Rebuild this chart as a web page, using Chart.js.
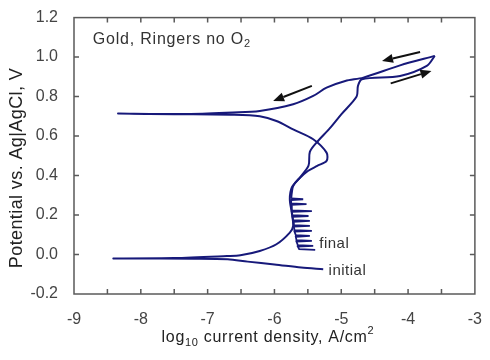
<!DOCTYPE html>
<html>
<head>
<meta charset="utf-8">
<script src="https://cdn.jsdelivr.net/npm/chart.js@4.4.1/dist/chart.umd.min.js"></script>
<style>
  html, body { margin: 0; padding: 0; background: #fff; }
  #wrap { width: 490px; height: 360px; }
</style>
</head>
<body>
<div id="wrap"><canvas id="chart"></canvas></div>
<script>
// ── Data (log10 i in A/cm2, potential in V vs Ag|AgCl) ─────────────

// forward sweep: initial -> vertex
const fwdLogI = [-5.27, -5.6, -6.0, -6.4, -6.7, -7.2, -8.41, -7.5, -6.71, -6.51, -6.22, -5.97, -5.77, -5.72,
                 -5.74, -5.77, -5.74, -5.62, -5.49, -5.47, -5.37, -5.17, -5.0, -4.77, -4.75, -4.69, -4.12, -3.72, -3.60];
const fwdE    = [-0.075, -0.066, -0.05, -0.036, -0.024, -0.021, -0.02, -0.018, -0.008, -0.004, 0.018, 0.052, 0.111, 0.145,
                 0.21, 0.28, 0.34, 0.39, 0.45, 0.52, 0.567, 0.64, 0.71, 0.80, 0.854, 0.888, 0.904, 0.955, 1.006];

// reverse sweep: vertex -> start of noisy region
const revLogI = [-3.60, -4.12, -4.67, -4.94, -5.22, -5.42, -5.72, -6.22, -6.62, -7.26, -8.34, -7.5, -6.61, -6.22,
                 -5.97, -5.72, -5.42, -5.22, -5.22, -5.36, -5.50, -5.64, -5.72, -5.74, -5.75];
const revE    = [1.006, 0.958, 0.896, 0.879, 0.845, 0.803, 0.761, 0.727, 0.719, 0.712, 0.714, 0.711, 0.708, 0.70,
                 0.676, 0.634, 0.584, 0.516, 0.474, 0.449, 0.423, 0.381, 0.347, 0.314, 0.284];

// noisy tail of the reverse sweep (base, spike, base for each spike)
const tailLogI = [-5.75, -5.57, -5.75,  -5.75, -5.52, -5.75,  -5.74, -5.44, -5.74,  -5.73, -5.49, -5.73,
                  -5.72, -5.47, -5.72,  -5.71, -5.47, -5.71,  -5.70, -5.44, -5.70,  -5.68, -5.47, -5.68,
                  -5.67, -5.44, -5.67,  -5.65, -5.42, -5.65,  -5.63, -5.39];
const tailE    = [0.284, 0.280, 0.276,  0.259, 0.255, 0.251,  0.224, 0.220, 0.216,  0.199, 0.195, 0.191,
                  0.174, 0.170, 0.166,  0.149, 0.145, 0.141,  0.124, 0.120, 0.116,  0.098, 0.094, 0.090,
                  0.073, 0.069, 0.065,  0.048, 0.044, 0.040,  0.027, 0.023];

// scan direction arrows [fromLogI, fromE, toLogI, toE]
const arrows = [
  [-3.82, 1.026, -4.39, 0.980],
  [-4.26, 0.867, -3.65, 0.930],
  [-5.44, 0.854, -6.02, 0.778],
];

const xTicks = [-9, -8, -7, -6, -5, -4, -3];
const yTicks = [-0.2, 0.0, 0.2, 0.4, 0.6, 0.8, 1.0, 1.2];

const FONT = '"Liberation Sans", Arial, sans-serif';
const LINE = '#17197a';

const toPts = (xs, ys) => xs.map((x, i) => ({ x, y: ys[i] }));

// ── Plugin: frame, inward ticks, labels, arrows ───────────────────

const decor = {
  id: 'decor',
  afterDraw(chart) {
    const { ctx, chartArea: a, scales: { x, y } } = chart;
    ctx.save();

    // frame
    ctx.strokeStyle = '#5a5a5a';
    ctx.lineWidth = 1.5;
    ctx.strokeRect(a.left, a.top, a.right - a.left, a.bottom - a.top);

    // inward ticks (x has half-decade minors)
    ctx.beginPath();
    for (let v = -8.5; v < -3; v += 0.5) {
      const px = x.getPixelForValue(v);
      ctx.moveTo(px, a.bottom); ctx.lineTo(px, a.bottom - 5);
      ctx.moveTo(px, a.top);    ctx.lineTo(px, a.top + 5);
    }
    yTicks.slice(1, -1).forEach(v => {
      const py = y.getPixelForValue(v);
      ctx.moveTo(a.left, py);  ctx.lineTo(a.left + 5, py);
      ctx.moveTo(a.right, py); ctx.lineTo(a.right - 5, py);
    });
    ctx.stroke();

    // arrows
    ctx.fillStyle = '#111';
    ctx.strokeStyle = '#111';
    arrows.forEach(([x0, y0, x1, y1]) => {
      const ax = x.getPixelForValue(x0), ay = y.getPixelForValue(y0);
      const bx = x.getPixelForValue(x1), by = y.getPixelForValue(y1);
      const ang = Math.atan2(by - ay, bx - ax);
      const c = Math.cos(ang), s = Math.sin(ang);
      const hl = 11, hw = 4.5;
      ctx.lineWidth = 2;
      ctx.beginPath();
      ctx.moveTo(ax, ay);
      ctx.lineTo(bx - hl * c, by - hl * s);
      ctx.stroke();
      ctx.beginPath();
      ctx.moveTo(bx, by);
      ctx.lineTo(bx - hl * c + hw * s, by - hl * s - hw * c);
      ctx.lineTo(bx - hl * c - hw * s, by - hl * s + hw * c);
      ctx.closePath();
      ctx.fill();
    });

    // in-plot labels
    ctx.fillStyle = '#333';
    ctx.textBaseline = 'middle';
    ctx.textAlign = 'left';
    ctx.letterSpacing = '0.5px';
    ctx.font = `15px ${FONT}`;
    ctx.fillText('final',   x.getPixelForValue(-5.33), y.getPixelForValue(0.052));
    ctx.fillText('initial', x.getPixelForValue(-5.19), y.getPixelForValue(-0.083));

    const gx = x.getPixelForValue(-8.72), gy = y.getPixelForValue(1.09);
    const g = 'Gold, Ringers no O';
    ctx.letterSpacing = '0.8px';
    ctx.font = `16px ${FONT}`;
    ctx.fillText(g, gx, gy);
    const gw = ctx.measureText(g).width;
    ctx.font = `11px ${FONT}`;
    ctx.fillText('2', gx + gw, gy + 5);

    // x-axis title with subscript and superscript
    ctx.fillStyle = '#222';
    ctx.letterSpacing = '0.7px';
    const parts = [['log', 16, 0], ['10', 11, 5], [' current density, A/cm', 16, 0], ['2', 11, -7]];
    let total = 0;
    parts.forEach(([t, sz]) => { ctx.font = `${sz}px ${FONT}`; total += ctx.measureText(t).width; });
    let cx = 268 - total / 2;
    parts.forEach(([t, sz, dy]) => {
      ctx.font = `${sz}px ${FONT}`;
      ctx.fillText(t, cx, 338 + dy);
      cx += ctx.measureText(t).width;
    });

    // y-axis title
    ctx.save();
    ctx.translate(17, 168);
    ctx.rotate(-Math.PI / 2);
    ctx.textAlign = 'center';
    ctx.letterSpacing = '0.4px';
    ctx.font = `18px ${FONT}`;
    ctx.fillText('Potential vs. Ag|AgCl, V', 0, 0);
    ctx.restore();

    ctx.restore();
  },
};

// ── Chart ────────────────────────────────────────────────────────

const lineStyle = { showLine: true, borderColor: LINE, borderWidth: 2, pointRadius: 0 };

new Chart(document.getElementById('chart'), {
  type: 'scatter',
  data: {
    datasets: [
      { label: 'forward', data: toPts(fwdLogI, fwdE), ...lineStyle, tension: 0.3 },
      { label: 'reverse', data: toPts(revLogI, revE), ...lineStyle, tension: 0.3 },
      { label: 'tail',    data: toPts(tailLogI, tailE), ...lineStyle, borderWidth: 1.8, tension: 0 },
    ],
  },
  options: {
    responsive: true,
    maintainAspectRatio: false,
    animation: false,
    layout: { padding: { top: 17, right: 15, left: 0, bottom: 0 } },
    plugins: { legend: { display: false }, tooltip: { enabled: false } },
    scales: {
      x: {
        type: 'linear', min: -9, max: -3,
        afterBuildTicks: s => { s.ticks = xTicks.map(v => ({ value: v })); },
        afterFit: s => { s.height = 66; },
        grid: { display: false }, border: { display: false },
        ticks: { color: '#444', padding: 8, font: { family: FONT, size: 16 }, callback: v => String(v) },
      },
      y: {
        type: 'linear', min: -0.2, max: 1.2,
        afterBuildTicks: s => { s.ticks = yTicks.map(v => ({ value: v })); },
        afterFit: s => { s.width = 74; },
        grid: { display: false }, border: { display: false },
        ticks: { color: '#444', padding: 8, font: { family: FONT, size: 16 }, callback: v => v.toFixed(1) },
      },
    },
  },
  plugins: [decor],
});
</script>
</body>
</html>
